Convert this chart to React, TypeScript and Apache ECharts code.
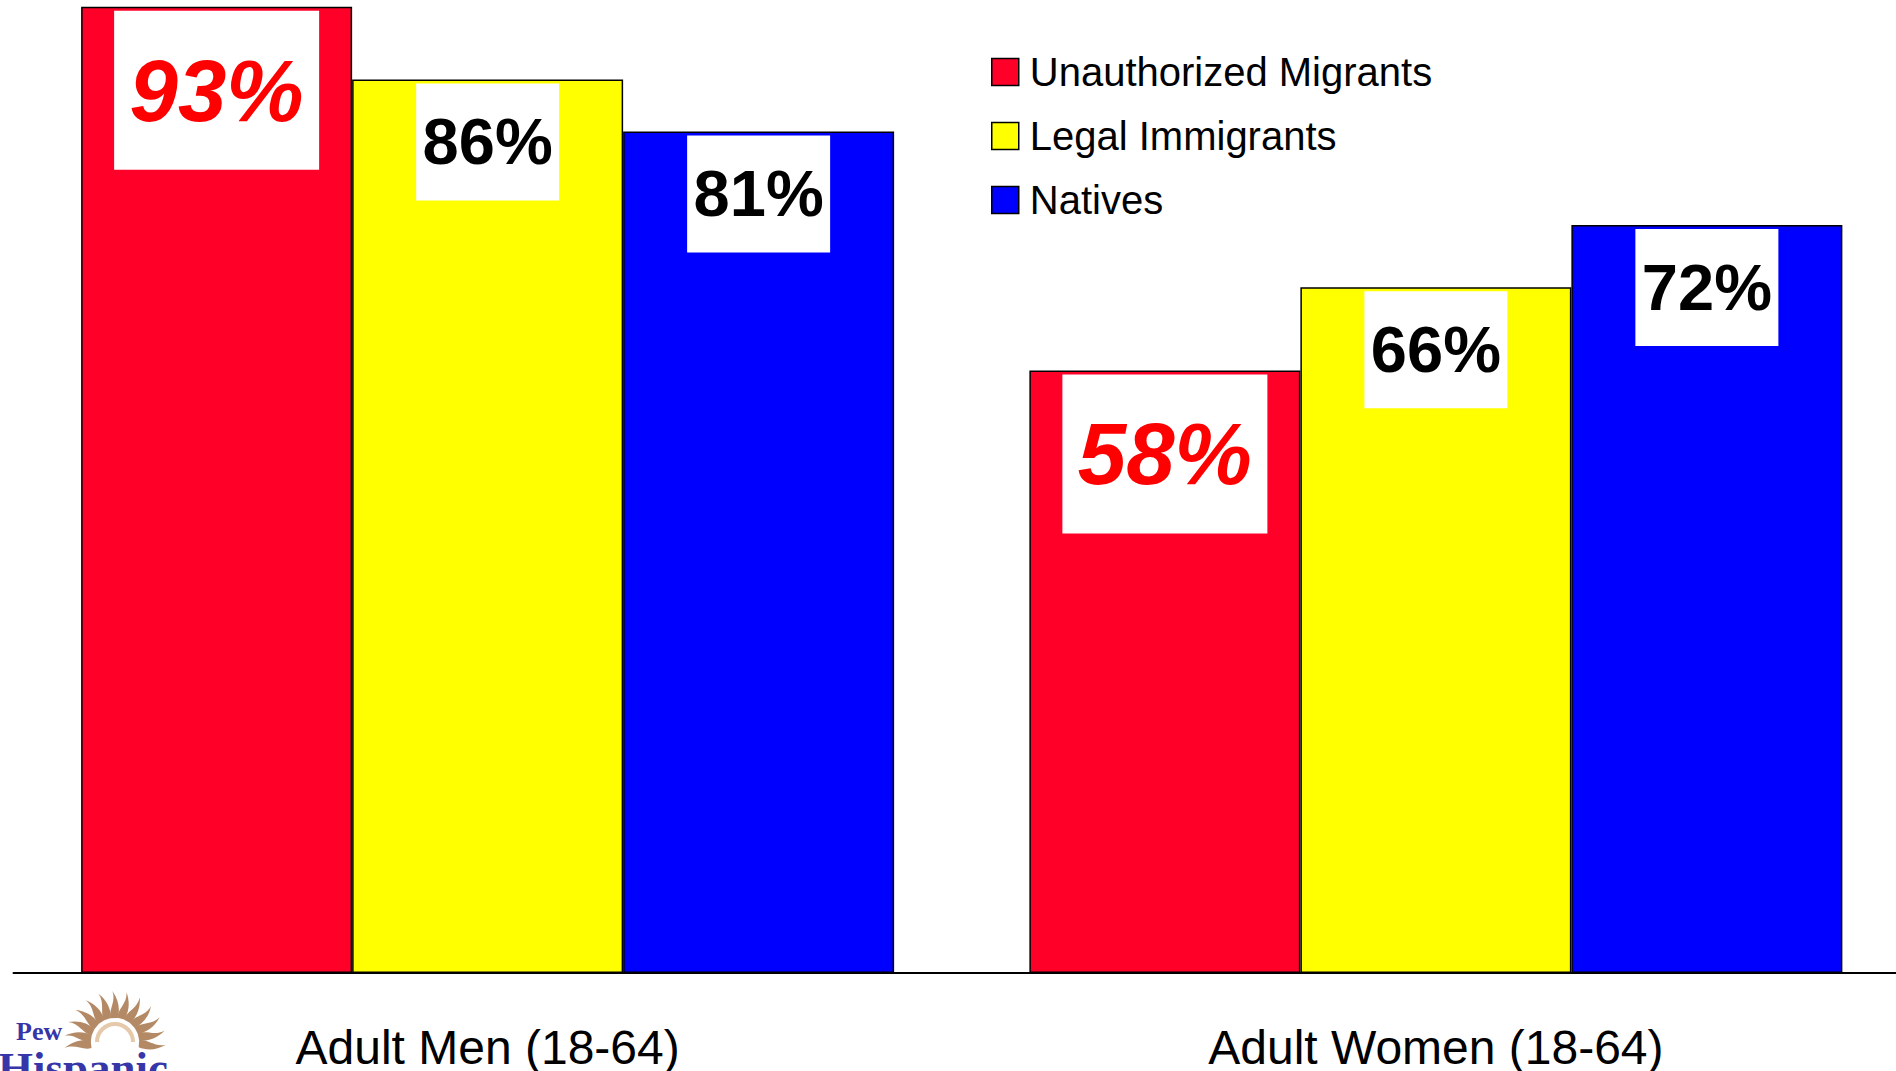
import React, { useEffect, useRef } from "react";
import * as echarts from "echarts";

const categories = ["Adult Men (18-64)", "Adult Women (18-64)"];
const seriesNames = ["Unauthorized Migrants", "Legal Immigrants", "Natives"];
const unauthorized = [93, 58];
const legal = [86, 66];
const natives = [81, 72];

const FONT = "'Liberation Sans', Arial, sans-serif";

const rayPath = "M -4 0 C -6 -10 3 -18 -1 -30 C 6 -20 7 -9 4 0 Z";
echarts.graphic.registerShape("sunray", (echarts.graphic as any).extendPath(rayPath, {}));

function buildLogo() {
  const cx = 115;
  const cy = 1042;
  const angles = [-4, 12, 28, 44, 60, 76, 92, 108, 124, 140, 156, 172, 186];
  const rays = angles.map((a) => {
    const t = (a * Math.PI) / 180;
    return {
      type: "sunray",
      x: cx + 24 * Math.cos(t),
      y: cy - 24 * Math.sin(t),
      rotation: t - Math.PI / 2,
      scaleX: 0.9,
      scaleY: 0.9,
      style: { fill: "#B48A66" },
      silent: true,
    };
  });
  return [
    ...rays,
    {
      type: "arc",
      shape: { cx, cy, r: 18, startAngle: Math.PI, endAngle: 2 * Math.PI },
      style: { stroke: "#E6C9AA", lineWidth: 4, fill: "none" },
      silent: true,
    },
    {
      type: "text",
      x: 16,
      y: 1018,
      style: {
        text: "Pew",
        font: "bold 26px 'Liberation Serif', 'Times New Roman', serif",
        fill: "#3636A8",
        verticalAlign: "top",
      },
      silent: true,
    },
    {
      type: "text",
      x: -2,
      y: 1045,
      style: {
        text: "Hispanic",
        font: "bold 45px 'Liberation Serif', 'Times New Roman', serif",
        fill: "#3636A8",
        verticalAlign: "top",
      },
      silent: true,
    },
  ];
}

function makeLabel(italicRed: boolean) {
  return italicRed
    ? {
        show: true,
        position: "insideTop",
        distance: 4,
        formatter: "{c}%",
        color: "#FF0000",
        fontFamily: FONT,
        fontSize: 87,
        fontWeight: "bold",
        fontStyle: "italic",
        backgroundColor: "#FFFFFF",
        width: 205,
        height: 159,
        lineHeight: 159,
        align: "center",
      }
    : {
        show: true,
        position: "insideTop",
        distance: 4,
        formatter: "{c}%",
        color: "#000000",
        fontFamily: FONT,
        fontSize: 65,
        fontWeight: "bold",
        backgroundColor: "#FFFFFF",
        width: 143,
        height: 117,
        lineHeight: 117,
        align: "center",
      };
}

export default function App() {
  const ref = useRef<HTMLDivElement>(null);
  useEffect(() => {
    if (!ref.current) return;
    const chart = echarts.init(ref.current, null, { renderer: "svg" });
    const colors = ["#FF0029", "#FFFF00", "#0000FF"];
    const values = [unauthorized, legal, natives];
    chart.setOption({
      animation: false,
      backgroundColor: "#FFFFFF",
      grid: { left: 13.5, right: 0, top: 0, bottom: 98, containLabel: false },
      legend: {
        orient: "vertical",
        left: 986,
        top: 47,
        itemWidth: 27,
        itemHeight: 27,
        itemGap: 24,
        icon: "rect",
        data: seriesNames,
        itemStyle: { borderColor: "#000", borderWidth: 1.5 },
        textStyle: {
          fontFamily: FONT,
          fontSize: 40,
          lineHeight: 40,
          color: "#000",
          padding: [0, 0, 0, 6],
        },
      },
      xAxis: {
        type: "category",
        data: categories,
        axisLine: { lineStyle: { color: "#000", width: 2 } },
        axisTick: { show: false },
        axisLabel: { fontFamily: FONT, fontSize: 48, color: "#000", margin: 50 },
      },
      yAxis: { type: "value", min: 0, max: 93.65, show: false, splitLine: { show: false } },
      series: seriesNames.map((name, i) => ({
        name,
        type: "bar",
        data: values[i],
        barWidth: 271,
        barGap: "0%",
        itemStyle: { color: colors[i], borderColor: "#000", borderWidth: 1.5 },
        label: makeLabel(i === 0),
      })),
      graphic: buildLogo(),
    });
    return () => chart.dispose();
  }, []);
  return (
    <div
      style={{
        position: "absolute",
        left: 0,
        top: 0,
        width: 1896,
        height: 1071,
        overflow: "hidden",
      }}
    >
      <div ref={ref} style={{ width: 1910, height: 1071 }} />
    </div>
  );
}
